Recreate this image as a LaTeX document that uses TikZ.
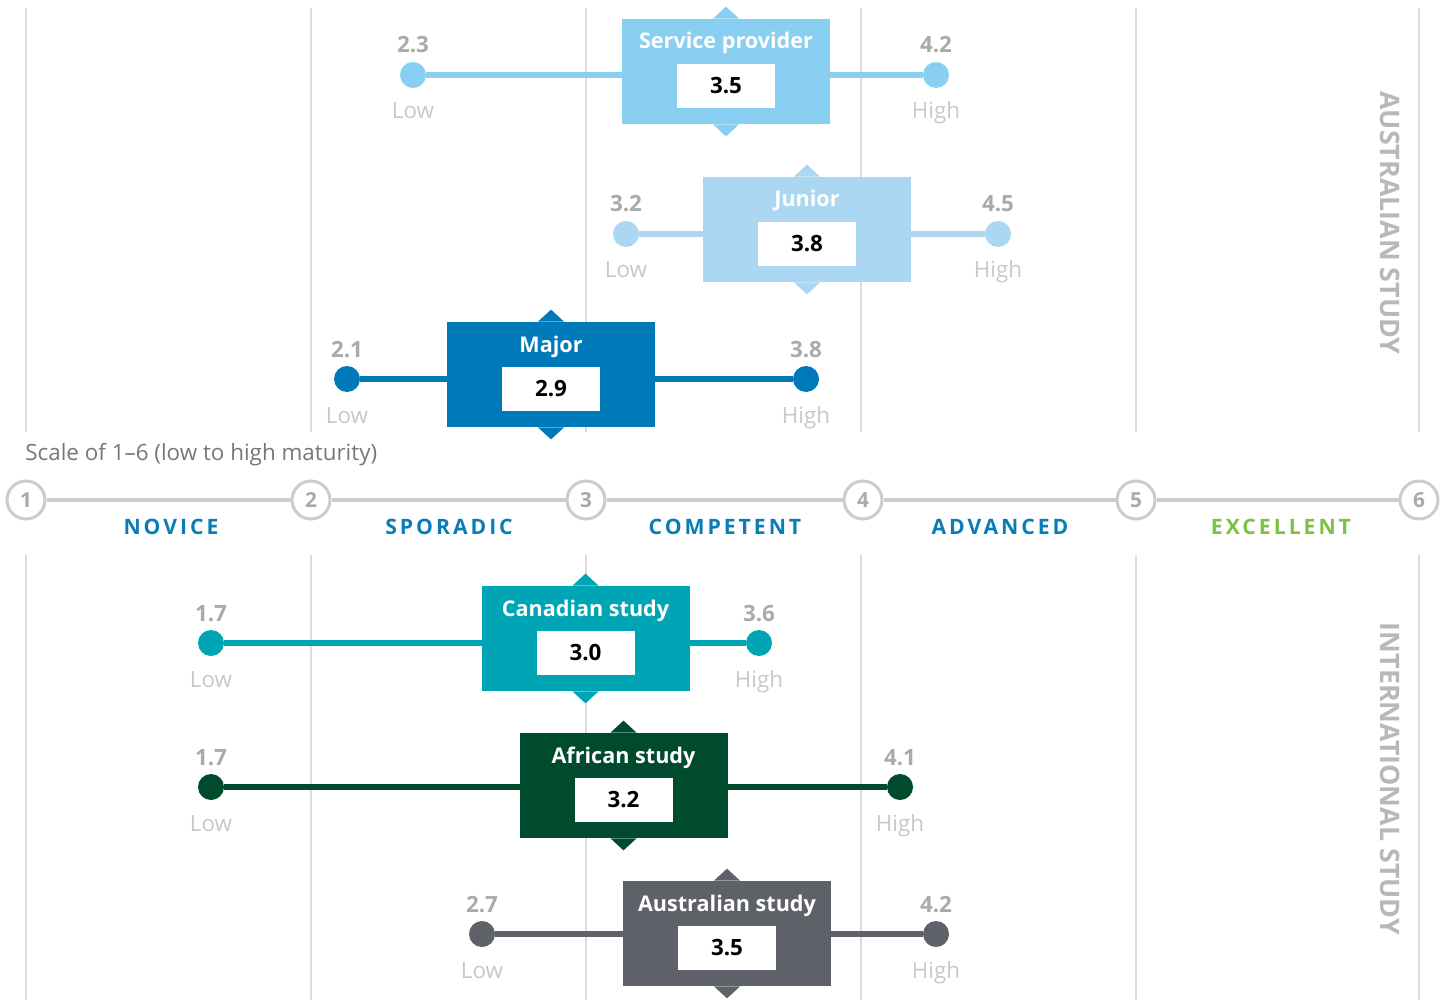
\documentclass[tikz,border=0pt]{standalone}
\usepackage{fontspec}
\setmainfont{Open Sans}
\newfontfamily\spacedfont[LetterSpace=14]{Open Sans}

\definecolor{gridgrey}{HTML}{DCDCDC}
\definecolor{scalegrey}{HTML}{CCCCCC}
\definecolor{numgrey}{HTML}{AAAAAA}
\definecolor{lightgrey}{HTML}{C8C8C8}
\definecolor{textgrey}{HTML}{777777}
\definecolor{sidegrey}{HTML}{B8B8B8}
\definecolor{levelblue}{HTML}{0A7CB6}
\definecolor{levelgreen}{HTML}{7DC142}
\definecolor{cSP}{HTML}{89CFF1}
\definecolor{cJR}{HTML}{ABD7F2}
\definecolor{cMJ}{HTML}{0079B8}
\definecolor{cCA}{HTML}{00A5B5}
\definecolor{cAF}{HTML}{004A2E}
\definecolor{cAU}{HTML}{5E6168}

\begin{document}
\begin{tikzpicture}[x=0.5pt,y=-0.5pt,
  gridline/.style={gridgrey, line width=1pt},
  stepcircle/.style={circle, draw=scalegrey, line width=1.5pt, fill=white,
    minimum size=19pt, inner sep=0pt, text=numgrey,
    font=\fontsize{10.4}{11}\selectfont\bfseries},
  scaleline/.style={scalegrey, line width=2pt},
  levellabel/.style={anchor=base, text=levelblue, inner sep=0pt,
    font=\fontsize{10.6}{12}\spacedfont\bfseries},
  dot/.style={circle, minimum size=13pt, inner sep=0pt},
  bar/.style={line width=3pt},
  panel/.style={rectangle, minimum width=104pt, minimum height=52.5pt, inner sep=0pt},
  paneltitle/.style={anchor=base, text=white, inner sep=0pt,
    font=\fontsize{10.8}{12}\selectfont\bfseries},
  valbox/.style={rectangle, fill=white, minimum width=49pt, minimum height=22pt,
    inner sep=0pt, text=black, font=\fontsize{11.2}{12}\selectfont\bfseries},
  numlabel/.style={anchor=base, text=numgrey, inner sep=0pt,
    font=\fontsize{11.2}{12}\selectfont\bfseries},
  endlabel/.style={anchor=base, text=lightgrey, inner sep=0pt,
    font=\fontsize{11.2}{12}\selectfont},
  sidelabel/.style={rotate=-90, text=sidegrey, inner sep=0pt,
    font=\fontsize{13.4}{15}\selectfont\bfseries}
]
\useasboundingbox (0,0) rectangle (1450,1000);

% vertical grid lines, upper and lower halves
\foreach \x in {26,311,586,861,1136,1419} {
  \draw[gridline] (\x,8) -- (\x,432);
  \draw[gridline] (\x,555) -- (\x,1000);
}

% maturity scale
\node[anchor=base west, inner sep=0pt, text=textgrey, font=\fontsize{11.2}{12}\selectfont]
  (scaletitle) at (25,460) {Scale of 1–6 (low to high maturity)};
\foreach \i/\x in {1/26,2/311,3/586,4/863,5/1136,6/1419}
  \node[stepcircle] (s\i) at (\x,500) {\i};
\foreach \a/\b in {1/2,2/3,3/4,4/5,5/6}
  \draw[scaleline] (s\a) -- (s\b);
\node[levellabel] (lnov) at (171,534) {NOVICE};
\node[levellabel] (lspo) at (449,534) {SPORADIC};
\node[levellabel] (lcom) at (725,534) {COMPETENT};
\node[levellabel] (ladv) at (1000,534) {ADVANCED};
\node[levellabel, text=levelgreen] (lexc) at (1281,534) {EXCELLENT};

% range bars with score panels
\foreach \n/\cx/\ty/\ly/\lx/\hx/\lv/\hv/\ttl/\val/\col in {
  sp/726/19/75/413/936/2.3/4.2/Service provider/3.5/cSP,
  jr/807/177/234/626/998/3.2/4.5/Junior/3.8/cJR,
  mj/551/322/379/347/806/2.1/3.8/Major/2.9/cMJ,
  ca/585.5/586/643/211/759/1.7/3.6/Canadian study/3.0/cCA,
  af/623.5/733/787/211/900/1.7/4.1/African study/3.2/cAF,
  au/727/881/934/482/936/2.7/4.2/Australian study/3.5/cAU} {
  \node[dot, fill=\col] (\n-lo) at (\lx,\ly) {};
  \node[dot, fill=\col] (\n-hi) at (\hx,\ly) {};
  \draw[bar, draw=\col] (\n-lo) -- (\n-hi);
  \node[panel, fill=\col] (\n) at (\cx,\ty+52.5) {};
  \fill[\col] ([xshift=-6.5pt]\n.north) -- ([yshift=6pt]\n.north)
    -- ([xshift=6.5pt]\n.north) -- cycle;
  \fill[\col] ([xshift=-6.5pt]\n.south) -- ([yshift=-6pt]\n.south)
    -- ([xshift=6.5pt]\n.south) -- cycle;
  \node[paneltitle] (\n-title) at (\cx,\ty+30) {\ttl};
  \node[valbox] (\n-val) at (\cx,\ty+67) {\val};
  \node[numlabel] (\n-lonum) at (\lx,\ly-22) {\lv};
  \node[numlabel] (\n-hinum) at (\hx,\ly-22) {\hv};
  \node[endlabel] (\n-lotxt) at (\lx,\ly+44) {Low};
  \node[endlabel] (\n-hitxt) at (\hx,\ly+44) {High};
}

% section labels
\node[sidelabel] (aus) at (1390,223) {AUSTRALIAN STUDY};
\node[sidelabel] (intl) at (1390,779) {INTERNATIONAL STUDY};
\end{tikzpicture}
\end{document}
